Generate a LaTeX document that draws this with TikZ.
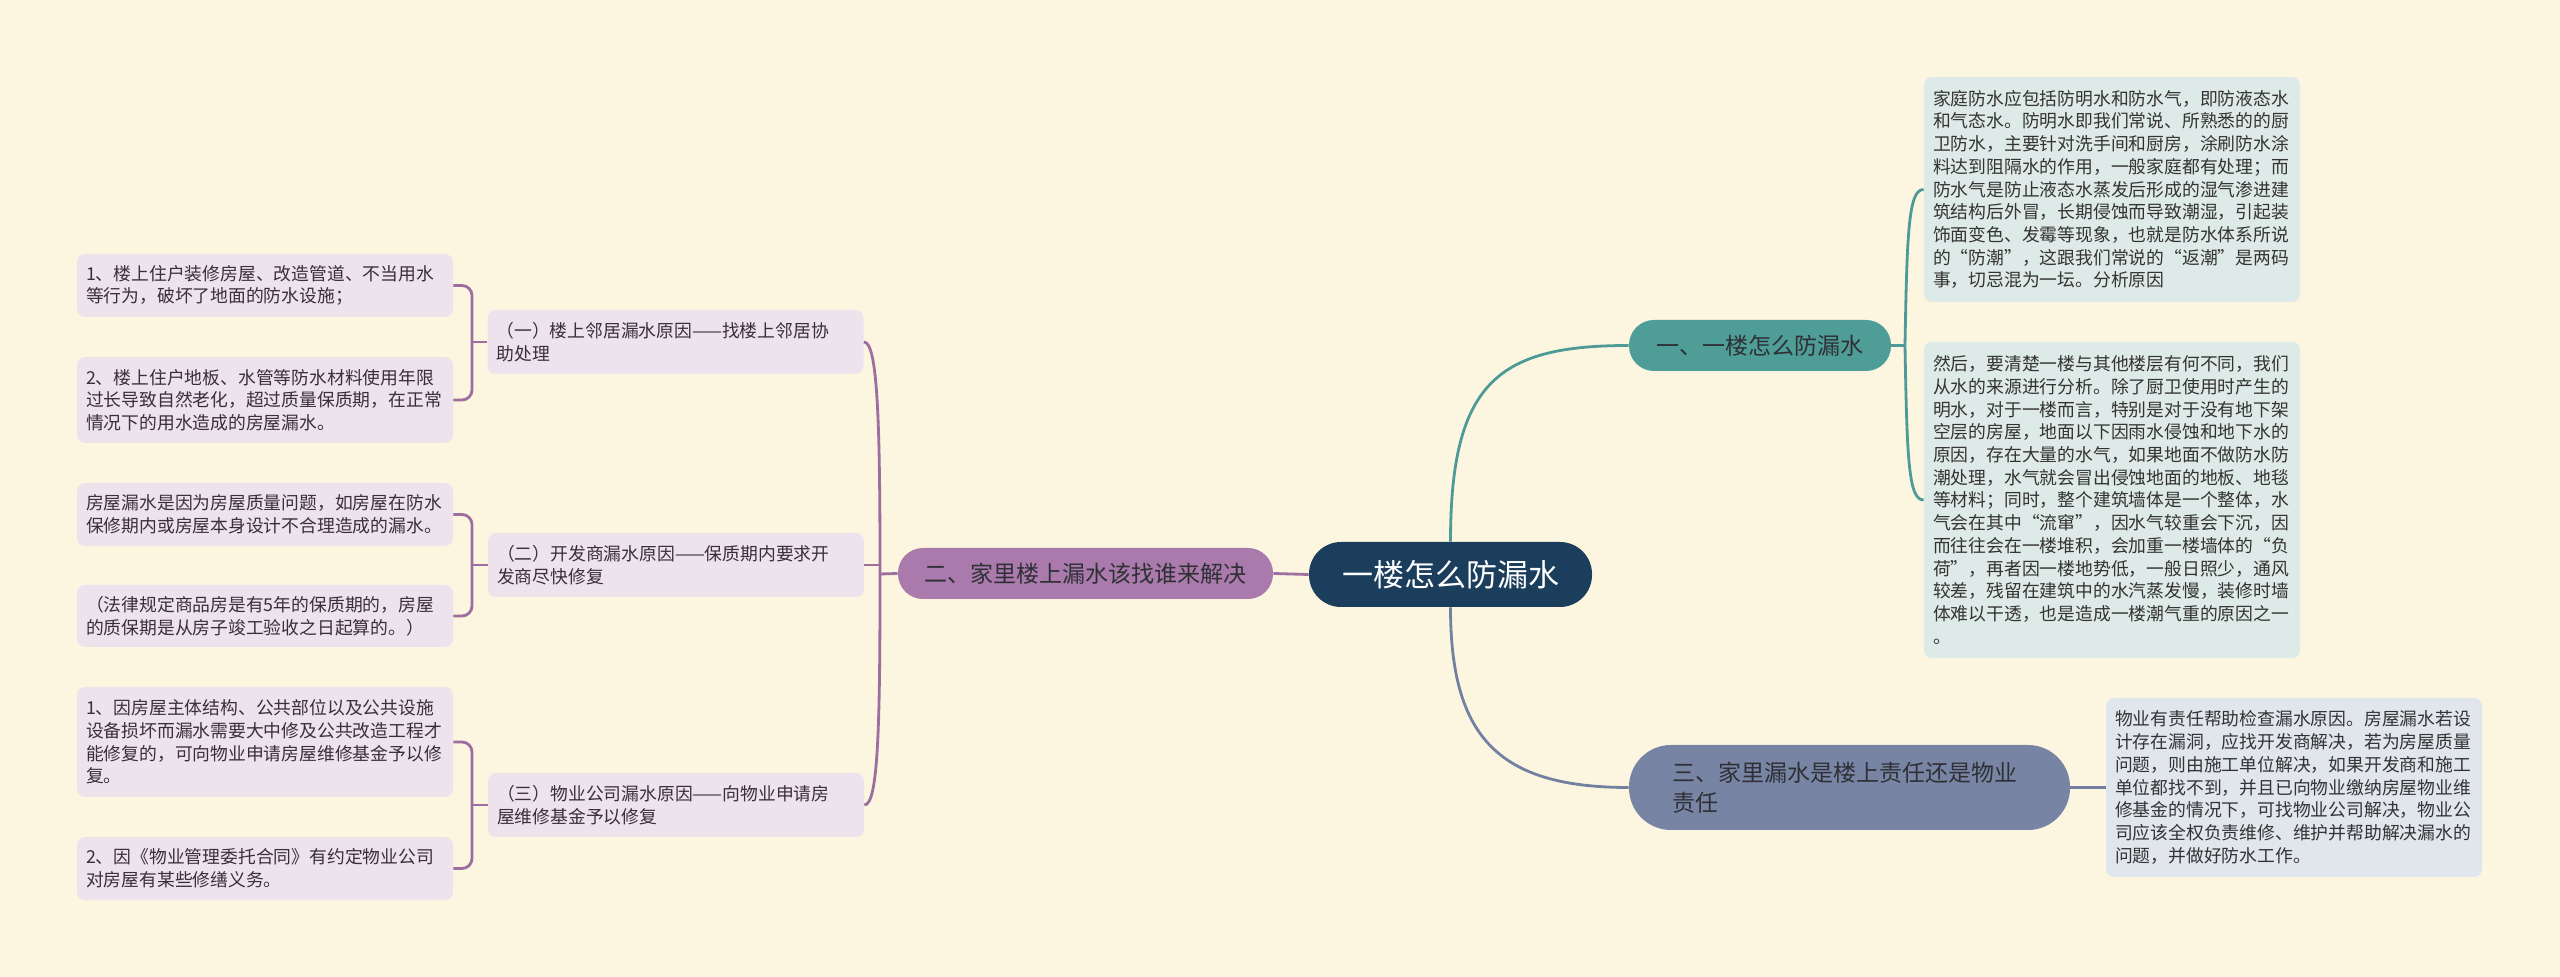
\documentclass[tikz,border=0pt]{standalone}
\usepackage{fontspec}
\setmainfont{Noto Sans CJK SC}
\definecolor{bg}{HTML}{FCF6E1}
\definecolor{cfill}{HTML}{1A3E5C}
\definecolor{bonefill}{HTML}{4F9D97}
\definecolor{btwofill}{HTML}{A97AAB}
\definecolor{bthreefill}{HTML}{7884A4}
\definecolor{rfill}{HTML}{DDEAE7}
\definecolor{rthreefill}{HTML}{E1E5EC}
\definecolor{lfill}{HTML}{EDE3EC}
\definecolor{rtext}{HTML}{333333}
\definecolor{ltext}{HTML}{3A2E3A}
\definecolor{btext}{HTML}{2E3035}
\definecolor{tealline}{HTML}{4E9A96}
\definecolor{purpline}{HTML}{9D6E9F}
\definecolor{slateline}{HTML}{73809F}
\newcommand\leaffnt{\fontsize{8.9pt}{11.35pt}\selectfont}
\newcommand\brfnt{\fontsize{11.5pt}{15pt}\selectfont}
\newcommand\cenfnt{\fontsize{15.5pt}{18pt}\selectfont}
\begin{document}
\begin{tikzpicture}[x=0.5pt,y=-0.5pt,
  box/.style={rectangle, rounded corners=4pt, inner xsep=4.5pt, inner ysep=0pt,
    align=left, text width=179pt, minimum width=188pt, font=\leaffnt},
  lbox/.style={box, fill=lfill, text=ltext},
  rbox/.style={box, fill=rfill, text=rtext},
  brnode/.style={rectangle, inner sep=0pt, align=center, font=\brfnt, text=btext},
  tline/.style={draw=tealline, line width=1.4pt},
  pline/.style={draw=purpline, line width=1.4pt},
  sline/.style={draw=slateline, line width=1.4pt},
  lbr/.style={pline, rounded corners=5pt}
]
\useasboundingbox (0,0) rectangle (2560,977);
\fill[bg] (0,0) rectangle (2560,977);

% central
\node[rectangle, fill=cfill, text=white, font=\cenfnt, minimum width=141.5pt,
  minimum height=32.5pt, rounded corners=16pt, inner sep=0pt] (C) at (1450.5,574.5) {一楼怎么防漏水};

% branches
\node[brnode, fill=bonefill, minimum width=131pt, minimum height=25.5pt, rounded corners=12.5pt] (B1) at (1760,345.5) {一、一楼怎么防漏水};
\node[brnode, fill=btwofill, minimum width=187.5pt, minimum height=25.5pt, rounded corners=12.5pt] (B2) at (1085.5,573.5) {二、家里楼上漏水该找谁来解决};
\node[brnode, fill=bthreefill, align=left, text width=177.5pt, inner xsep=21.5pt, inner ysep=0pt,
  minimum width=220.5pt, minimum height=42.5pt, rounded corners=21pt] (B3) at (1849.5,787.5)
  {三、家里漏水是楼上责任还是物业\\责任};

% right leaves
\node[rbox, minimum height=112.5pt] (R1) at (2112,189.5) {家庭防水应包括防明水和防水气，即防液态水\\和气态水。防明水即我们常说、所熟悉的的厨\\卫防水，主要针对洗手间和厨房，涂刷防水涂\\料达到阻隔水的作用，一般家庭都有处理；而\\防水气是防止液态水蒸发后形成的湿气渗进建\\筑结构后外冒，长期侵蚀而导致潮湿，引起装\\饰面变色、发霉等现象，也就是防水体系所说\\的“防潮”，这跟我们常说的“返潮”是两码\\事，切忌混为一坛。分析原因};
\node[rbox, minimum height=158pt] (R2) at (2112,500) {然后，要清楚一楼与其他楼层有何不同，我们\\从水的来源进行分析。除了厨卫使用时产生的\\明水，对于一楼而言，特别是对于没有地下架\\空层的房屋，地面以下因雨水侵蚀和地下水的\\原因，存在大量的水气，如果地面不做防水防\\潮处理，水气就会冒出侵蚀地面的地板、地毯\\等材料；同时，整个建筑墙体是一个整体，水\\气会在其中“流窜”，因水气较重会下沉，因\\而往往会在一楼堆积，会加重一楼墙体的“负\\荷”，再者因一楼地势低，一般日照少，通风\\较差，残留在建筑中的水汽蒸发慢，装修时墙\\体难以干透，也是造成一楼潮气重的原因之一\\。};
\node[box, fill=rthreefill, text=rtext, minimum height=89.5pt] (R3) at (2294,787.5) {物业有责任帮助检查漏水原因。房屋漏水若设\\计存在漏洞，应找开发商解决，若为房屋质量\\问题，则由施工单位解决，如果开发商和施工\\单位都找不到，并且已向物业缴纳房屋物业维\\修基金的情况下，可找物业公司解决，物业公\\司应该全权负责维修、维护并帮助解决漏水的\\问题，并做好防水工作。};

% middle nodes
\node[lbox, minimum height=32pt] (M1) at (675.5,342) {（一）楼上邻居漏水原因——找楼上邻居协\\助处理};
\node[lbox, minimum height=32pt] (M2) at (676,565) {（二）开发商漏水原因——保质期内要求开\\发商尽快修复};
\node[lbox, minimum height=32pt] (M3) at (676,805) {（三）物业公司漏水原因——向物业申请房\\屋维修基金予以修复};

% left leaves
\node[lbox, minimum height=31.5pt] (L1) at (265,285.5) {1、楼上住户装修房屋、改造管道、不当用水\\等行为，破坏了地面的防水设施；};
\node[lbox, minimum height=43pt] (L2) at (265,400) {2、楼上住户地板、水管等防水材料使用年限\\过长导致自然老化，超过质量保质期，在正常\\情况下的用水造成的房屋漏水。};
\node[lbox, minimum height=31.5pt] (L3) at (265,514.5) {房屋漏水是因为房屋质量问题，如房屋在防水\\保修期内或房屋本身设计不合理造成的漏水。};
\node[lbox, minimum height=31pt] (L4) at (265,616) {（法律规定商品房是有5年的保质期的，房屋\\的质保期是从房子竣工验收之日起算的。）};
\node[lbox, minimum height=55pt] (L5) at (265,742) {1、因房屋主体结构、公共部位以及公共设施\\设备损坏而漏水需要大中修及公共改造工程才\\能修复的，可向物业申请房屋维修基金予以修\\复。};
\node[lbox, minimum height=31.5pt] (L6) at (265,868.5) {2、因《物业管理委托合同》有约定物业公司\\对房屋有某些修缮义务。};

% junction coordinates
\coordinate (kone) at (1905,345.5);
\coordinate (ktwo) at (880,574);
\coordinate (jone) at (472,342);
\coordinate (jtwo) at (472,565);
\coordinate (jthree) at (472,805);

% centre to branches
\draw[pline] (C.west) -- (B2.east);
\draw[tline] (C.north) .. controls +(0,-160) and +(-130,0) .. (B1.west);
\draw[sline] (C.south) .. controls +(0,130) and +(-130,0) .. (B3.west);

% branch 1 to right leaves
\draw[tline] (B1.east) -- (kone);
\draw[tline] (kone) .. controls +(2,-115) and +(-15,0) .. (R1.west);
\draw[tline] (kone) .. controls +(2,115) and +(-15,0) .. (R2.west);

% branch 3 to leaf
\draw[sline] (B3.east) -- (R3.west);

% branch 2 to middle nodes
\draw[pline] (B2.west) -- (ktwo);
\draw[pline] (M1.east) .. controls +(14,0) and +(0,-150) .. (ktwo);
\draw[pline] (M3.east) .. controls +(14,0) and +(0,150) .. (ktwo);
\draw[pline] (M2.east) -- (M2.east -| ktwo);

% middle nodes to left leaves
\draw[lbr] (L1.east) -| (jone) |- (L2.east);
\draw[pline] (M1.west) -- (jone);
\draw[lbr] (L3.east) -| (jtwo) |- (L4.east);
\draw[pline] (M2.west) -- (jtwo);
\draw[lbr] (L5.east) -| (jthree) |- (L6.east);
\draw[pline] (M3.west) -- (jthree);
\end{tikzpicture}
\end{document}
